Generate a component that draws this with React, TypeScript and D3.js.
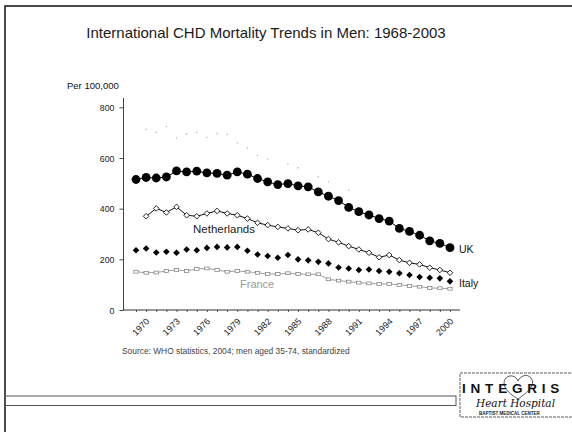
/*eslint-disable*/
import React, { useEffect, useRef } from 'react';
import * as d3 from 'd3';

// years shown on the x axis (one point per year)
const years = [1969, 1970, 1971, 1972, 1973, 1974, 1975, 1976, 1977, 1978, 1979, 1980, 1981, 1982, 1983, 1984,
  1985, 1986, 1987, 1988, 1989, 1990, 1991, 1992, 1993, 1994, 1995, 1996, 1997, 1998, 1999, 2000];
const tickYears = [1970, 1973, 1976, 1979, 1982, 1985, 1988, 1991, 1994, 1997, 2000];
const yTicks = [0, 200, 400, 600, 800];

// rates per 100,000
const ukValues = [515, 523, 521, 525, 549, 545, 548, 541, 539, 532, 545, 536, 519, 506, 495, 499,
  490, 486, 466, 449, 432, 405, 388, 375, 361, 351, 322, 310, 295, 273, 263, 246];
// Netherlands starts in 1970
const nlValues = [370, 401, 385, 407, 374, 370, 381, 391, 381, 374, 361, 344, 335, 328, 322,
  315, 318, 305, 280, 267, 252, 239, 226, 208, 217, 197, 186, 180, 167, 158, 147];
const italyValues = [236, 243, 227, 230, 226, 239, 236, 245, 249, 247, 249, 234, 219, 213, 206, 217,
  200, 196, 190, 184, 168, 164, 158, 160, 154, 151, 145, 138, 130, 127, 125, 113];
const franceValues = [151, 147, 148, 154, 158, 154, 162, 164, 158, 151, 154, 151, 147, 142, 142, 145,
  142, 141, 141, 121, 116, 112, 108, 105, 103, 103, 99, 95, 92, 87, 86, 84];
// faded series at the top (barely visible in the scan)
const fadedYears = [1970, 1971, 1972, 1973, 1974, 1975, 1976, 1977, 1978, 1979, 1980, 1981, 1982, 1984, 1985, 1987, 1988, 1990];
const fadedValues = [713, 701, 724, 679, 694, 701, 681, 697, 693, 659, 640, 611, 596, 575, 561, 526, 506, 473];

const App: React.FC = () => {
  const svgRef = useRef<SVGSVGElement>(null);

  useEffect(() => {
    const svg = d3.select(svgRef.current);
    svg.selectAll('*').remove();
    const font = 'Arial, "Liberation Sans", Helvetica, sans-serif';

    const x = d3.scaleLinear().domain([1969, 2000]).range([136, 450]);
    const y = d3.scaleLinear().domain([0, 800]).range([310, 107.3]);

    // outer frame
    svg.append('rect').attr('x', 5).attr('y', 6).attr('width', 620).attr('height', 480)
      .attr('fill', 'none').attr('stroke', '#111').attr('stroke-width', 1.5);

    // title
    svg.append('text').attr('x', 266).attr('y', 38).attr('text-anchor', 'middle')
      .attr('font-family', font).attr('font-size', 15).attr('fill', '#1a1a1a')
      .text('International CHD Mortality Trends in Men: 1968-2003');

    svg.append('text').attr('x', 67).attr('y', 89).attr('font-family', font)
      .attr('font-size', 9.5).attr('fill', '#111').text('Per 100,000');

    // y axis
    const yAxis = svg.append('g').attr('transform', 'translate(123.5,0)')
      .call(d3.axisLeft(y).tickValues(yTicks).tickSize(4).tickPadding(5).tickFormat(d3.format('d')));
    yAxis.select('.domain').remove();
    yAxis.append('line').attr('x1', 0).attr('x2', 0).attr('y1', 98).attr('y2', 310)
      .attr('stroke', '#444').attr('stroke-width', 1);
    yAxis.selectAll('.tick line').attr('stroke', '#444');
    yAxis.selectAll('.tick text').attr('font-family', font).attr('font-size', 8.8)
      .attr('fill', '#222').attr('dy', '0.35em');

    // x axis
    const xAxis = svg.append('g').attr('transform', 'translate(0,310)')
      .call(d3.axisBottom(x).tickValues(years).tickSize(2).tickFormat(() => ''));
    xAxis.select('.domain').remove();
    xAxis.append('line').attr('x1', 123.5).attr('x2', 460).attr('y1', 0).attr('y2', 0)
      .attr('stroke', '#333').attr('stroke-width', 1);
    xAxis.selectAll('.tick line').attr('stroke', '#555');

    svg.append('g').selectAll('text').data(tickYears).enter().append('text')
      .attr('transform', d => `translate(${x(d) + 4},322) rotate(-45)`)
      .attr('text-anchor', 'end').attr('font-family', font).attr('font-size', 9)
      .attr('fill', '#222').text(d => String(d));

    // faded series
    svg.append('g').selectAll('circle').data(fadedValues).enter().append('circle')
      .attr('cx', (d, i) => x(fadedYears[i])).attr('cy', d => y(d)).attr('r', 0.8)
      .attr('fill', '#b8b8b8');

    const line = (ys: number[]) => d3.line<number>().x((d, i) => x(ys[i])).y(d => y(d));
    const nlYears = years.slice(1);

    // France
    svg.append('path').attr('d', line(years)(franceValues)).attr('fill', 'none')
      .attr('stroke', '#888').attr('stroke-width', 0.8);
    svg.append('g').selectAll('rect').data(franceValues).enter().append('rect')
      .attr('x', (d, i) => x(years[i]) - 2.2).attr('y', d => y(d) - 1.4)
      .attr('width', 4.4).attr('height', 2.8).attr('fill', '#fff')
      .attr('stroke', '#777').attr('stroke-width', 0.7);

    // Italy (filled diamonds)
    const diamond = (s: number) => `M0,${-s}L${s},0L0,${s}L${-s},0Z`;
    svg.append('g').selectAll('path').data(italyValues).enter().append('path')
      .attr('d', diamond(3.3)).attr('transform', (d, i) => `translate(${x(years[i])},${y(d)})`)
      .attr('fill', '#000');

    // Netherlands (open diamonds on a line)
    svg.append('path').attr('d', line(nlYears)(nlValues)).attr('fill', 'none')
      .attr('stroke', '#111').attr('stroke-width', 1);
    svg.append('g').selectAll('path').data(nlValues).enter().append('path')
      .attr('d', diamond(2.8)).attr('transform', (d, i) => `translate(${x(nlYears[i])},${y(d)})`)
      .attr('fill', '#fff').attr('stroke', '#111').attr('stroke-width', 0.9);

    // UK (large dots)
    svg.append('path').attr('d', line(years)(ukValues)).attr('fill', 'none')
      .attr('stroke', '#000').attr('stroke-width', 1);
    svg.append('g').selectAll('circle').data(ukValues).enter().append('circle')
      .attr('cx', (d, i) => x(years[i])).attr('cy', d => y(d)).attr('r', 4.4).attr('fill', '#000');

    // series labels
    const label = (t: string, lx: number, ly: number, c: string, fs: number) =>
      svg.append('text').attr('x', lx).attr('y', ly).attr('font-family', font)
        .attr('font-size', fs).attr('fill', c).text(t);
    label('UK', 459, 253, '#111', 10.5);
    label('Italy', 459, 287, '#111', 10.5);
    label('Netherlands', 193, 233, '#222', 11.5);
    label('France', 240, 288, '#9a9a9a', 11);

    svg.append('text').attr('x', 122).attr('y', 354).attr('font-family', font)
      .attr('font-size', 8.4).attr('fill', '#444')
      .text('Source: WHO statistics, 2004; men aged 35-74, standardized');

    // footer bar
    svg.append('rect').attr('x', 5).attr('y', 396).attr('width', 451).attr('height', 9.5)
      .attr('fill', 'none').attr('stroke', '#555').attr('stroke-width', 1);

    // logo
    const logo = svg.append('g');
    logo.append('rect').attr('x', 460).attr('y', 373).attr('width', 120).attr('height', 44)
      .attr('fill', '#fff').attr('stroke', '#333').attr('stroke-width', 0.8)
      .attr('stroke-dasharray', '3 1');
    logo.append('path')
      .attr('d', 'M518,399 C506,392 501,384 506,378 C510,374 516,376 518,381 C520,376 527,373 531,378 C536,385 528,392 518,399 Z')
      .attr('fill', 'none').attr('stroke', '#444').attr('stroke-width', 0.9);
    logo.append('text').attr('x', 462).attr('y', 393).attr('font-family', font)
      .attr('font-size', 13.5).attr('font-weight', 'bold').attr('letter-spacing', 4.8)
      .attr('fill', '#111').text('INTEGRIS');
    logo.append('text').attr('x', 476).attr('y', 407).attr('font-family', 'DejaVu Serif, serif')
      .attr('font-size', 10.5).attr('font-style', 'italic').attr('fill', '#111').text('Heart Hospital');
    logo.append('text').attr('x', 479).attr('y', 415).attr('font-family', font)
      .attr('font-size', 4.5).attr('font-weight', 'bold').attr('fill', '#222')
      .text('BAPTIST MEDICAL CENTER');
  }, []);

  return (
    <svg ref={svgRef} width={572} height={432}
      style={{ position: 'absolute', left: 0, top: 0, background: '#fff' }}></svg>
  );
};

export default App;
